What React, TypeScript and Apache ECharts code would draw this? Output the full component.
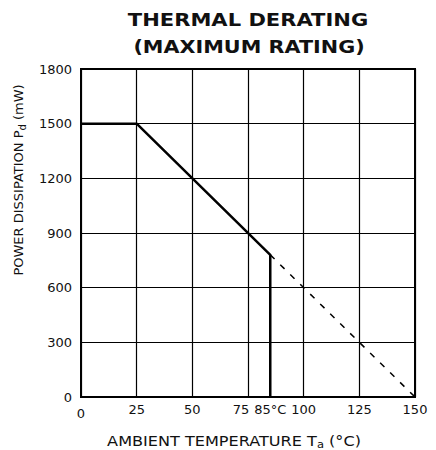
import React, { useEffect, useRef } from "react";
import * as echarts from "echarts";

const solidTemps = [0, 25, 85, 85];
const solidPower = [1500, 1500, 780, 0];
const dashTemps = [85, 150];
const dashPower = [780, 0];
const xLabelValues = [0, 25, 50, 75, 85, 100, 125, 150];
const yLabelValues = [0, 300, 600, 900, 1200, 1500, 1800];

const FONT = "DejaVu Sans";

export default function App() {
  const ref = useRef<HTMLDivElement>(null);
  useEffect(() => {
    if (!ref.current) return;
    const chart = echarts.init(ref.current, undefined, { renderer: "svg" });
    const solidData = solidTemps.map((t, i) => [t, solidPower[i]]);
    const dashData = dashTemps.map((t, i) => [t, dashPower[i]]);
    chart.setOption({
      animation: false,
      backgroundColor: "#fff",
      graphic: [
        {
          type: "text",
          x: 248,
          y: 20,
          scaleX: 1.17,
          style: {
            text: "THERMAL DERATING",
            fontFamily: FONT,
            fontSize: 18,
            fontWeight: "bold",
            fill: "#111",
            align: "center",
            verticalAlign: "middle",
          },
        },
        {
          type: "text",
          x: 249,
          y: 47,
          scaleX: 1.22,
          style: {
            text: "(MAXIMUM RATING)",
            fontFamily: FONT,
            fontSize: 17,
            fontWeight: "bold",
            fill: "#111",
            align: "center",
            verticalAlign: "middle",
          },
        },
        {
          type: "text",
          x: 234,
          y: 441,
          scaleX: 1.15,
          style: {
            text: "AMBIENT TEMPERATURE T{sub|a} (°C)",
            fontFamily: FONT,
            fontSize: 14,
            fill: "#111",
            align: "center",
            verticalAlign: "middle",
            rich: { sub: { fontFamily: FONT, fontSize: 10, fill: "#111", padding: [8, 0, 0, 0] } },
          },
        },
      ],
      grid: {
        left: 81,
        right: 21,
        top: 69,
        bottom: 53,
        show: true,
        borderColor: "#000",
        borderWidth: 2,
      },
      xAxis: {
        type: "value",
        min: 0,
        max: 150,
        interval: 25,
        axisLine: { show: false },
        axisTick: { show: false },
        splitLine: { show: true, lineStyle: { color: "#000", width: 1.2 } },
        axisLabel: {
          customValues: xLabelValues,
          fontFamily: FONT,
          fontSize: 13,
          color: "#111",
          margin: 6,
          formatter: (v: number) =>
            v === 85 ? "85°C" : v === 75 ? "{l|75}" : v === 0 ? "{z|0}" : String(v),
          rich: {
            l: { fontFamily: FONT, fontSize: 13, color: "#111", padding: [0, 14, 0, 0] },
            z: { fontFamily: FONT, fontSize: 13, color: "#111", padding: [4, 0, 0, 0] },
          },
        },
      },
      yAxis: {
        type: "value",
        min: 0,
        max: 1800,
        interval: 300,
        name: "POWER DISSIPATION P{sub|d} (mW)",
        nameLocation: "middle",
        nameGap: 54,
        nameTextStyle: {
          fontFamily: FONT,
          fontSize: 13,
          color: "#111",
          padding: [0, 0, 0, 106],
          rich: { sub: { fontFamily: FONT, fontSize: 10, color: "#111", padding: [8, 0, 0, 0] } },
        },
        axisLine: { show: false },
        axisTick: { show: false },
        splitLine: { show: true, lineStyle: { color: "#000", width: 1.2 } },
        axisLabel: {
          customValues: yLabelValues,
          fontFamily: FONT,
          fontSize: 13,
          color: "#111",
          margin: 9,
          formatter: (v: number) => String(v),
        },
      },
      series: [
        {
          type: "line",
          data: solidData,
          symbol: "none",
          lineStyle: { color: "#000", width: 2.5 },
        },
        {
          type: "line",
          data: dashData,
          symbol: "none",
          lineStyle: { color: "#000", width: 1.5, type: [6, 8] },
        },
      ],
    });
    return () => chart.dispose();
  }, []);
  return <div ref={ref} style={{ width: 436, height: 450, marginLeft: -8, marginTop: -8 }} />;
}
